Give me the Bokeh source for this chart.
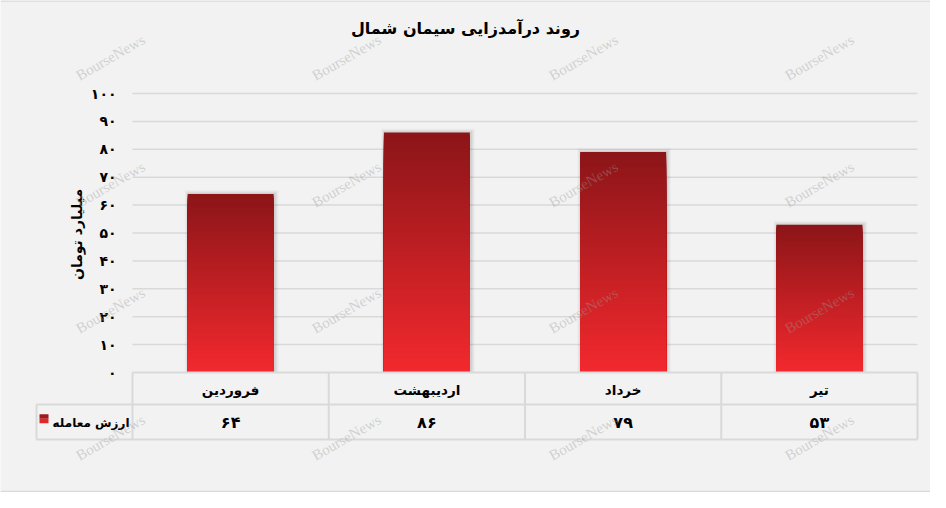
import numpy as np
from bokeh.plotting import figure
from bokeh.models import Range1d
from bokeh.core.properties import value
from bokeh.embed import file_html
from bokeh.resources import INLINE

# ---------------- data ----------------
title_text = "روند درآمدزایی سیمان شمال"
y_axis_title = "میلیارد تومان"
series_name = "ارزش معامله"
months = ["فروردین", "اردیبهشت", "خرداد", "تیر"]
values = [64, 86, 79, 53]
y_ticks = [0, 10, 20, 30, 40, 50, 60, 70, 80, 90, 100]
watermark = "BourseNews"

FA = str.maketrans("0123456789", "۰۱۲۳۴۵۶۷۸۹")
def fa(n):
    return str(n).translate(FA)

# ---------------- geometry (reference pixel positions) ----------------
W, H = 930, 492
OFF = 8
PLOT_L, PLOT_R = 140, 925
Y0_PX, YTOP_PX = 380, 101
ppx = (PLOT_R - PLOT_L) / len(months)
ppy = (Y0_PX - YTOP_PX) / y_ticks[-1]

def dx(ix):
    return (ix - PLOT_L) / ppx

def dy(iy):
    return (Y0_PX - iy) / ppy

BG = "#f2f2f2"
LINE = "#d9d9d9"
FONT = value("DejaVu Sans")
BAR_W = 86 / ppx

p = figure(width=W, height=H,
           x_range=Range1d(dx(OFF), dx(OFF + W)),
           y_range=Range1d(dy(OFF + H), dy(OFF)),
           output_backend="svg", toolbar_location=None,
           min_border=0, x_axis_location=None, y_axis_location=None,
           background_fill_color=BG, border_fill_color=BG,
           outline_line_color=None)
p.xgrid.visible = False
p.ygrid.visible = False

n = len(months)
centers = [i + 0.5 for i in range(n)]

# frame lines at top and bottom of the picture
p.segment(x0=[dx(OFF)] * 2, x1=[dx(OFF + W)] * 2, y0=[dy(OFF + 0.5), dy(OFF + H - 1)],
          y1=[dy(OFF + 0.5), dy(OFF + H - 1)], line_color=LINE, line_width=1.5)

# gridlines
gt = [t for t in y_ticks if t > 0]
p.segment(x0=[0] * len(gt), x1=[n] * len(gt), y0=gt, y1=gt,
          line_color=LINE, line_width=1.5)

# bar shadows (soft)
for k, a in [(4, 0.02), (3, 0.03), (2, 0.04), (1, 0.05)]:
    p.vbar(x=[c + 1 / ppx for c in centers], width=BAR_W + 2 * k / ppx,
           bottom=0, top=[v + k / ppy for v in values],
           fill_color="black", fill_alpha=a, line_color=None)

# gradient bars: nested bars drawn tallest first so no seams appear
N = 90
TOP_C = np.array([139, 21, 24])
BOT_C = np.array([243, 41, 46])
xs, tops, cols = [], [], []
for k in range(N - 1, -1, -1):
    t = (k + 0.5) / N
    col = BOT_C + (TOP_C - BOT_C) * t
    hexcol = "#%02x%02x%02x" % tuple(int(round(a)) for a in col)
    for c, v in zip(centers, values):
        xs.append(c)
        tops.append(v * (k + 1) / N)
        cols.append(hexcol)
p.vbar(x=xs, width=BAR_W, bottom=0, top=tops,
       fill_color=cols, line_color=None)

# data table lines
LEG_L = dx(44)
R1 = dy(412)
R2 = dy(447)
p.segment(x0=[0, LEG_L, LEG_L], x1=[n, n, n], y0=[0, R1, R2], y1=[0, R1, R2],
          line_color=LINE, line_width=2)
vx = list(range(n + 1))
p.segment(x0=vx, x1=vx, y0=[0] * len(vx), y1=[R2] * len(vx),
          line_color=LINE, line_width=2)
p.segment(x0=[LEG_L], x1=[LEG_L], y0=[R1], y1=[R2], line_color=LINE, line_width=2)

# y tick labels
p.text(x=[dx(124)] * len(y_ticks), y=y_ticks, text=[fa(t) for t in y_ticks],
       text_align="right", text_baseline="middle", text_font=FONT,
       text_font_style="bold", text_font_size="14px", text_color="black")

# y axis title
p.text(x=[dx(84)], y=[dy(242)], text=[y_axis_title], angle=np.pi / 2,
       text_align="center", text_baseline="middle", text_font=FONT,
       text_font_style="bold", text_font_size="14px", text_color="black")

# title
p.text(x=[dx(473)], y=[dy(36)], text=[title_text],
       text_align="center", text_baseline="middle", text_font=FONT,
       text_font_style="bold", text_font_size="16px", text_color="black")

# table: categories and values
p.text(x=centers, y=[dy(397)] * n, text=months,
       text_align="center", text_baseline="middle", text_font=FONT,
       text_font_style="bold", text_font_size="13.5px", text_color="black")
p.text(x=centers, y=[dy(430)] * n, text=[fa(v) for v in values],
       text_align="center", text_baseline="middle", text_font=FONT,
       text_font_style="bold", text_font_size="16px", text_color="black")

# legend cell
p.text(x=[dx(137)], y=[dy(430)], text=[series_name],
       text_align="right", text_baseline="middle", text_font=FONT,
       text_font_style="bold", text_font_size="12px", text_color="black")
p.rect(x=[dx(51.5)], y=[dy(424)], width=9, height=4.5,
       width_units="screen", height_units="screen",
       fill_color="#9e1a1e", line_color=None)
p.rect(x=[dx(51.5)], y=[dy(428.5)], width=9, height=4.5,
       width_units="screen", height_units="screen",
       fill_color="#e0262b", line_color=None)

# watermarks
wm_x = [118, 354, 591, 827]
wm_y = [65, 192, 318, 445]
wx, wy = [], []
for yy in wm_y:
    for xx in wm_x:
        wx.append(dx(xx))
        wy.append(dy(yy))
p.text(x=wx, y=wy, text=[watermark] * len(wx), angle=0.52,
       text_align="center", text_baseline="middle",
       text_font=value("Liberation Serif"), text_font_size="15px",
       text_color="#9a9a9a", text_alpha=0.4)

open("out.html", "w").write(file_html(p, INLINE))
